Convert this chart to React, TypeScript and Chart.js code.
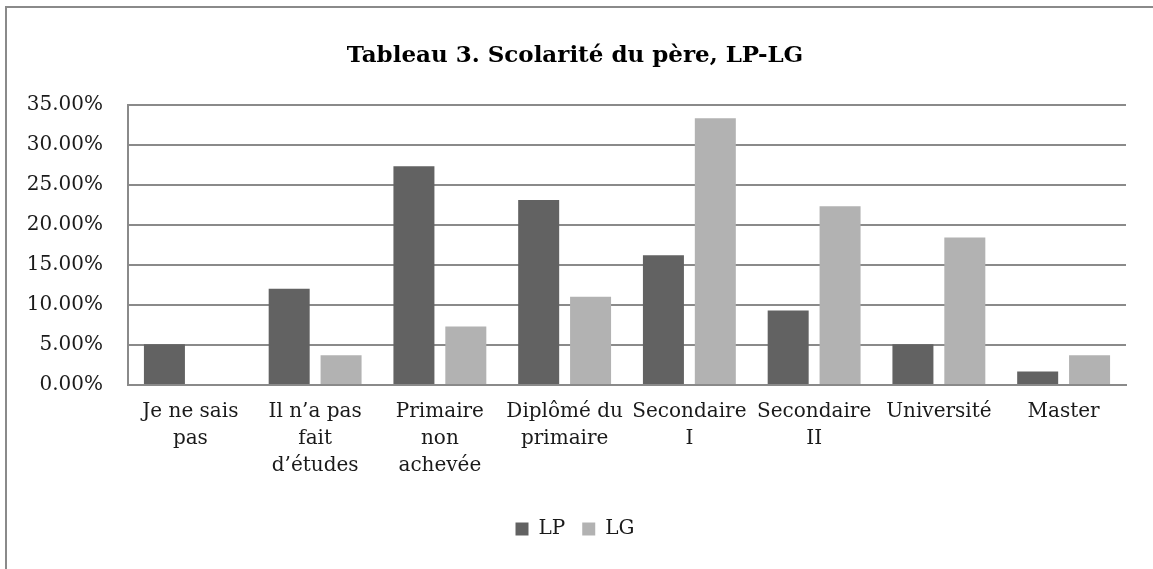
import React, { useEffect, useRef } from 'react';
import { Chart, registerables } from 'chart.js';

Chart.register(...registerables);

const categories: string[][] = [
  ['Je ne sais', 'pas'],
  ['Il n’a pas', 'fait', 'd’études'],
  ['Primaire', 'non', 'achevée'],
  ['Diplômé du', 'primaire'],
  ['Secondaire', 'I'],
  ['Secondaire', 'II'],
  ['Université'],
  ['Master'],
];
const lpValues = [5.1, 12.0, 27.3, 23.1, 16.2, 9.3, 5.1, 1.7];
const lgValues = [0, 3.7, 7.3, 11.0, 33.3, 22.3, 18.4, 3.7];
const seriesNames = ['LP', 'LG'];
const titleText = 'Tableau 3. Scolarité du père, LP-LG';
const yMin = 0;
const yMax = 35;
const yStep = 5;

const FONT = "'DejaVu Serif', serif";
const PAD_LEFT = 24;

export default function App() {
  const ref = useRef<HTMLCanvasElement | null>(null);

  useEffect(() => {
    document.body.style.margin = '0';
    const canvas = ref.current;
    if (!canvas) return;
    const chart = new Chart(canvas, {
      type: 'bar',
      data: {
        labels: categories,
        datasets: [
          {
            label: seriesNames[0],
            data: lpValues,
            backgroundColor: '#626262',
            categoryPercentage: 0.832,
            barPercentage: 0.79,
          },
          {
            label: seriesNames[1],
            data: lgValues,
            backgroundColor: '#b2b2b2',
            categoryPercentage: 0.832,
            barPercentage: 0.79,
          },
        ],
      },
      options: {
        responsive: false,
        animation: false,
        devicePixelRatio: 1,
        layout: { padding: { left: PAD_LEFT, right: 27, top: 0, bottom: 20 } },
        plugins: {
          tooltip: { enabled: false },
          title: {
            display: true,
            text: titleText,
            color: '#000',
            font: { family: FONT, size: 23, weight: 'bold', lineHeight: 1.2 },
            padding: { top: 42, bottom: 35 },
          },
          legend: {
            position: 'bottom',
            labels: {
              color: '#1a1a1a',
              font: { family: FONT, size: 20 },
              boxWidth: 13,
              boxHeight: 13,
              padding: 17,
            },
          },
        },
        scales: {
          x: {
            grid: { display: false, drawTicks: false },
            border: { display: true, color: '#8a8a8a', width: 2 },
            ticks: {
              color: '#1a1a1a',
              font: { family: FONT, size: 20, lineHeight: 1.35 },
              padding: 13,
              maxRotation: 0,
              minRotation: 0,
              autoSkip: false,
            },
            afterFit: (scale: any) => {
              scale.height = 117;
            },
          },
          y: {
            min: yMin,
            max: yMax,
            grid: { color: '#8a8a8a', lineWidth: 2, drawTicks: false },
            border: { display: true, color: '#8a8a8a', width: 2 },
            ticks: {
              stepSize: yStep,
              color: '#1a1a1a',
              font: { family: FONT, size: 20 },
              padding: 25,
              callback: (v: any) => Number(v).toFixed(2) + '%',
            },
            afterFit: (scale: any) => {
              scale.width = 128 - PAD_LEFT;
            },
          },
        },
      },
    });
    return () => chart.destroy();
  }, []);

  return (
    <div style={{ position: 'fixed', left: 0, top: 0, width: 1153, height: 569, background: '#fff', overflow: 'hidden' }}>
      <div
        style={{
          position: 'absolute',
          left: 5,
          top: 6,
          width: 1300,
          height: 700,
          borderLeft: '2px solid #8a8a8a',
          borderTop: '2px solid #8a8a8a',
        }}
      />
      <canvas ref={ref} width={1153} height={569} style={{ position: 'absolute', left: 0, top: 0 }} />
    </div>
  );
}
